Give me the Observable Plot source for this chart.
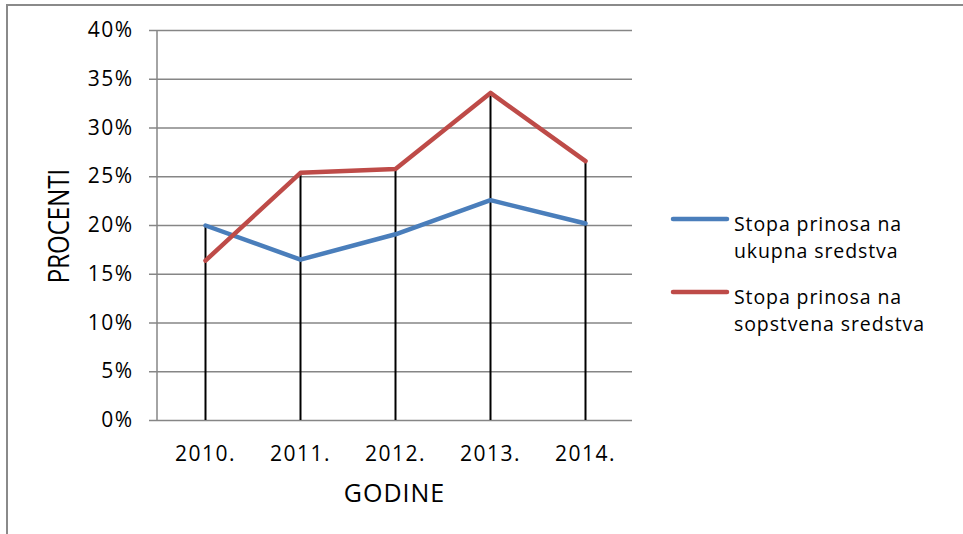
<!DOCTYPE html>
<html>
<head>
<meta charset="utf-8">
<script src="https://cdn.jsdelivr.net/npm/d3@7"></script>
<script src="https://cdn.jsdelivr.net/npm/@observablehq/plot@0.6"></script>
<style>
  html, body { margin: 0; padding: 0; background: #fff; }
  #wrap { position: relative; width: 963px; height: 534px; overflow: hidden; }
  #frame { position: absolute; left: 6px; top: 4px; width: 1000px; height: 600px;
           border-left: 2px solid #8a8a8a; border-top: 2px solid #8a8a8a; box-sizing: border-box; }
  #wrap svg { position: absolute; left: 0; top: 0; }
  #wrap svg [aria-label="y-axis tick label"] text,
  #wrap svg [aria-label="x-axis tick label"] text { letter-spacing: 1.5px; }
</style>
</head>
<body>
<div id="wrap"><div id="frame"></div></div>
<script>
// Years on the category axis
const years = ["2010.", "2011.", "2012.", "2013.", "2014."];
// Series names and colours
const seriesNames = ["Stopa prinosa na ukupna sredstva", "Stopa prinosa na sopstvena sredstva"];
const seriesLines = [["Stopa prinosa na", "ukupna sredstva"], ["Stopa prinosa na", "sopstvena sredstva"]];
const seriesColors = ["#4a7ebb", "#be4b48"];
// Rates (share) per year
const ukupna = [0.200, 0.165, 0.191, 0.226, 0.202];
const sopstvena = [0.164, 0.254, 0.258, 0.336, 0.266];
// Value axis ticks
const yTicks = [0, 0.05, 0.10, 0.15, 0.20, 0.25, 0.30, 0.35, 0.40];

const rows = [];
years.forEach((yr, i) => {
  rows.push({year: yr, series: seriesNames[0], value: ukupna[i]});
  rows.push({year: yr, series: seriesNames[1], value: sopstvena[i]});
});
// high-low style drop lines from the higher of the two rates down to zero
const drops = years.map((yr, i) => ({year: yr, top: Math.max(ukupna[i], sopstvena[i])}));

const font = "'Open Sans', sans-serif";
const W = 963, H = 534;
const mL = 157, mR = 331, mT = 30, mB = 114;

const chart = Plot.plot({
  width: W, height: H,
  marginLeft: mL, marginRight: mR, marginTop: mT, marginBottom: mB,
  style: {fontFamily: font, fontSize: "21px", color: "#000", background: "transparent", overflow: "visible"},
  x: {type: "point", domain: years, padding: 0.5, align: 0.5, axis: null},
  y: {domain: [0, 0.4], axis: null},
  color: {domain: seriesNames, range: seriesColors},
  marks: [
    Plot.gridY(yTicks, {stroke: "#868686", strokeOpacity: 1, strokeWidth: 1.5}),
    Plot.ruleX(drops, {x: "year", y1: 0, y2: "top", stroke: "#000", strokeWidth: 2}),
    Plot.line(rows, {x: "year", y: "value", z: "series", stroke: "series", strokeWidth: 4.5, strokeLinejoin: "round", strokeLinecap: "round"}),
    Plot.axisY(yTicks, {tickSize: 8, tickPadding: 16, stroke: "#868686", strokeWidth: 1.5, tickFormat: d3.format(".0%"), fontSize: 21, label: null}),
    Plot.axisX({tickSize: 0, tickPadding: 26, fontSize: 21, label: null})
  ]
});

document.getElementById("wrap").appendChild(chart);

const svg = d3.select(chart);
const x0 = mL, x1 = W - mR, yBase = H - mB;

// left value axis line
svg.append("line").attr("x1", x0).attr("x2", x0).attr("y1", mT).attr("y2", yBase)
  .attr("stroke", "#868686").attr("stroke-width", 1.5);

// axis titles
svg.append("text").attr("transform", `translate(69,226) scale(1.25,1) rotate(-90)`)
  .attr("text-anchor", "middle").attr("font-family", font).attr("font-size", 24).attr("fill", "#000")
  .text("PROCENTI");
svg.append("text").attr("x", (x0 + x1) / 2).attr("y", 502)
  .attr("text-anchor", "middle").attr("font-family", font).attr("font-size", 25)
  .style("letter-spacing", "1px").attr("fill", "#000")
  .text("GODINE");

// legend: swatch line plus a two-line label per series
const leg = svg.append("g");
seriesNames.forEach((name, i) => {
  const y = 219 + i * 73;
  leg.append("line").attr("x1", 673).attr("x2", 727).attr("y1", y).attr("y2", y)
    .attr("stroke", seriesColors[i]).attr("stroke-width", 4.5).attr("stroke-linecap", "round");
  seriesLines[i].forEach((t, j) => {
    leg.append("text").attr("x", 734).attr("y", y + 12 + j * 27)
      .attr("text-anchor", "start")
      .attr("font-family", font).attr("font-size", 19.5)
      .style("letter-spacing", "0.9px").attr("fill", "#000").text(t);
  });
});
</script>
</body>
</html>
